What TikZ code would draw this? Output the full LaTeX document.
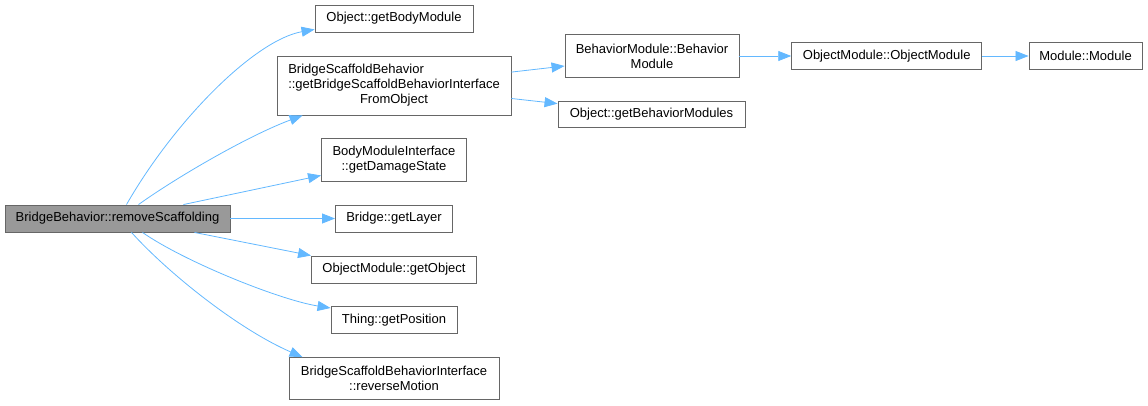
\documentclass[tikz,border=0pt]{standalone}
\usepackage{fontspec}
\setmainfont{Liberation Sans}
\usetikzlibrary{arrows.meta}
\definecolor{edgeblue}{HTML}{63B8FF}
\definecolor{boxgray}{HTML}{666666}
\definecolor{curgray}{HTML}{999999}
\tikzset{
  x=1pt, y=-1pt,
  func/.style={
    draw=boxgray, line width=0.9pt, fill=white, inner sep=0pt,
    align=center, font=\fontsize{13}{15}\selectfont, minimum height=27pt
  },
  current/.style={func, fill=curgray},
  call/.style={draw=edgeblue, line width=0.8pt, -{Triangle[length=13pt,width=10pt]}}
}

\begin{document}
\begin{tikzpicture}
      \useasboundingbox (0,0) rectangle (1148,405);

      \node[current, minimum width=225pt] (remove) at (117.5,218.5) {BridgeBehavior::removeScaffolding};

      % callees of removeScaffolding
      \node[func, minimum width=158pt] (bodymod) at (394,18.5) {Object::getBodyModule};
      \node[func, minimum width=234pt, minimum height=59pt] (bsbiface) at (394,85.5)
        {\rlap{BridgeScaffoldBehavior}\phantom{::getBridgeScaffoldBehaviorInterface}\\::getBridgeScaffoldBehaviorInterface\\FromObject};
      \node[func, minimum width=145pt, minimum height=43pt] (dmgstate) at (394,160) {BodyModuleInterface\\::getDamageState};
      \node[func, minimum width=117pt] (layer) at (394,218.5) {Bridge::getLayer};
      \node[func, minimum width=165pt] (getobj) at (394,269.5) {ObjectModule::getObject};
      \node[func, minimum width=126pt] (getpos) at (394,320) {Thing::getPosition};
      \node[func, minimum width=210pt, minimum height=42pt] (revmotion) at (394,378.5) {BridgeScaffoldBehaviorInterface\\::reverseMotion};

      % deeper calls
      \node[func, minimum width=174pt, minimum height=43pt] (behmod) at (652,56) {BehaviorModule::Behavior\\Module};
      \node[func, minimum width=187pt, minimum height=26pt] (behmods) at (651.5,114) {Object::getBehaviorModules};
      \node[func, minimum width=190pt] (objmod) at (886.7,56) {ObjectModule::ObjectModule};
      \node[func, minimum width=113pt] (module) at (1085.5,56) {Module::Module};

      \draw[call] ([xshift=9pt]remove.north) .. controls (175,120) and (255,40) .. ([yshift=3pt]bodymod.south west);
      \draw[call] ([xshift=21pt]remove.north) .. controls (180,175) and (250,135) .. ([xshift=26pt]bsbiface.south west);
      \draw[call] (remove) -- (dmgstate);
      \draw[call] (remove) -- (layer);
      \draw[call] ([xshift=77pt]remove.south) -- (getobj.north west);
      \draw[call] ([xshift=25pt]remove.south) .. controls (185,262) and (280,300) .. ([yshift=12pt]getpos.west);
      \draw[call] ([xshift=14pt]remove.south) .. controls (170,275) and (240,330) .. ([xshift=14pt]revmotion.north west);

      \draw[call] (bsbiface) -- (behmod);
      \draw[call] (bsbiface) -- (behmods);
      \draw[call] (behmod) -- (objmod);
      \draw[call] (objmod) -- (module);
\end{tikzpicture}
\end{document}
